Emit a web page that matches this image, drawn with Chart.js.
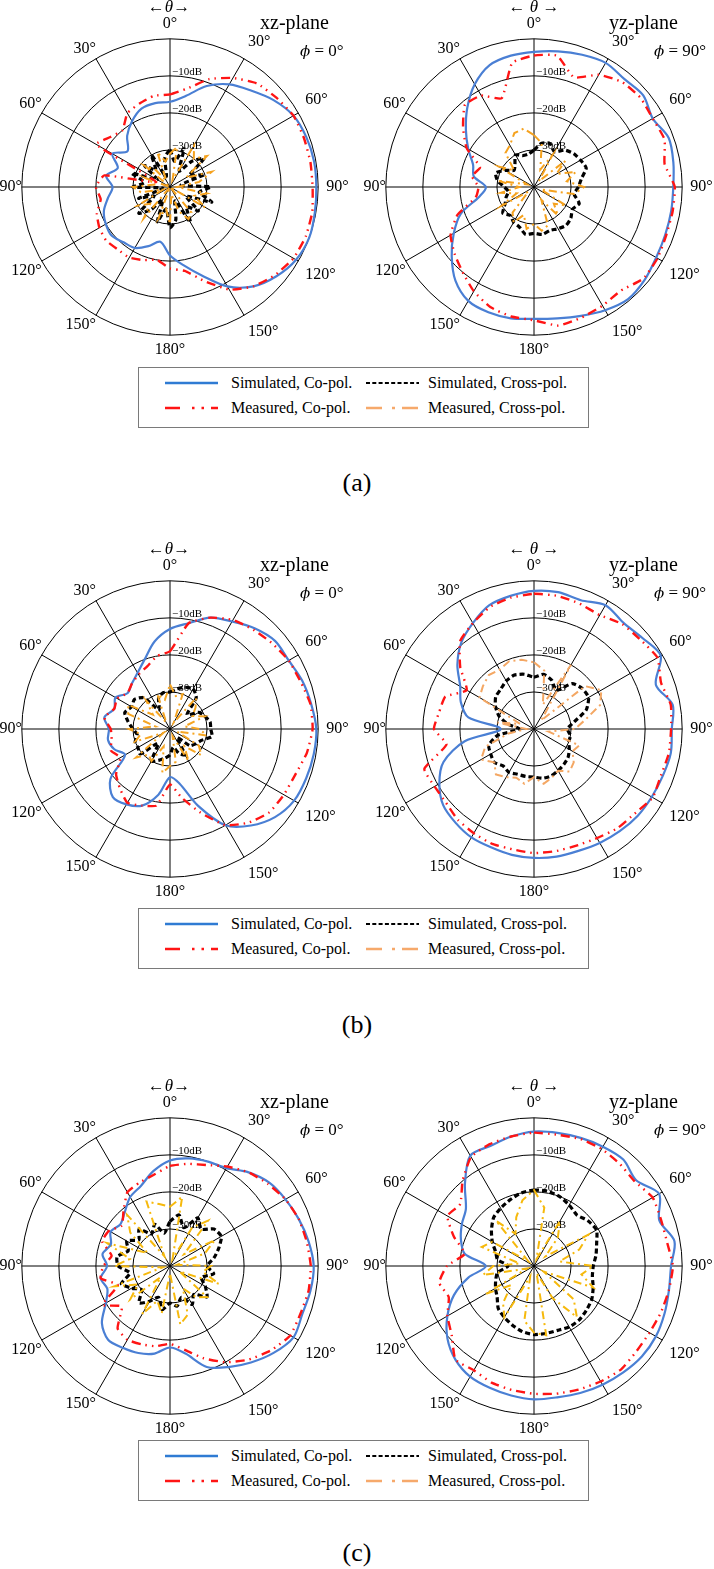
<!DOCTYPE html>
<html>
<head>
<meta charset="utf-8">
<title>Radiation patterns</title>
<script src="https://cdn.jsdelivr.net/npm/chart.js@4.4.1/dist/chart.umd.min.js"></script>
<style>
  body { margin: 0; background: #fff; }
  #page { position: relative; width: 714px; height: 1569px; overflow: hidden;
          font-family: "Liberation Serif", "Times New Roman", serif; color: #000; }
  .plot { position: absolute; width: 360px; height: 346px; }
  .txt { position: absolute; white-space: nowrap; line-height: 1; }
  .theta { font-size: 17px; transform: translate(-50%, -50%); }
  .plane { font-size: 20px; transform: translateY(-50%); }
  .phi { font-size: 17px; transform: translateY(-50%); }
  .phi i { font-family: "DejaVu Serif", serif; font-size: 15px; }
  .legend { position: absolute; left: 138px; width: 451px; height: 61px; box-sizing: border-box;
            border: 1px solid #7a7a7a; font-size: 16px; }
  .legend svg { position: absolute; }
  .legend span { position: absolute; white-space: nowrap; line-height: 1; transform: translateY(-50%); }
  .caption { position: absolute; font-size: 26px; line-height: 1; transform: translate(-50%, -50%); }
</style>
</head>
<body>
<div id="page"></div>
<script>
// theta positions, clockwise from the top (0..180 right side, 190..350 left side)
const angles = [0, 10, 20, 30, 40, 50, 60, 70, 80, 90, 100, 110, 120, 130, 140, 150, 160, 170,
                180, 190, 200, 210, 220, 230, 240, 250, 260, 270, 280, 290, 300, 310, 320, 330, 340, 350];
const dbTicks = [-40, -30, -20, -10, 0];

// (a) xz-plane
const aXzSimCo = [-17, -15, -11, -8, -6, -3.5, -1.5, -0.8, -0.5, -0.5, -0.3, 0, -0.7, -2.5, -5, -9, -14.5, -18.5,
                  -21.5, -25, -23, -21, -20.5, -19.5, -20, -21, -23, -24.5, -22.5, -25, -22, -25, -22, -19.5, -17.5, -17];
const aXzMeasCo = [-15, -13, -9, -6, -3.5, -2.5, -1.5, -1.5, -1.5, -1.5, -1, -1, -1.5, -3, -5, -8, -13, -17,
                   -18, -20, -19, -18, -18, -17.5, -18, -19, -21, -20, -22, -36, -17, -19, -20, -17, -16, -15];
const aXzSimX = [-30, -33, -29, -35, -31, -28, -34, -30, -37, -29, -32, -28, -35, -30, -33, -29, -36, -31,
                 -29, -34, -30, -36, -32, -29, -35, -31, -38, -30, -33, -29, -36, -31, -34, -30, -37, -32];
const aXzMeasX = [-31, -29, -38, -27, -30, -27, -35, -28, -32, -38, -30, -33, -29, -40, -31, -30, -33, -38,
                  -30, -34, -31, -40, -29, -33, -30, -38, -32, -30, -36, -33, -40, -31, -34, -38, -30, -33];
// (a) yz-plane
const aYzSimCo = [-3.5, -2.8, -2, -1.3, -2, -1.5, -3, -1.3, -1.8, -2.4, -2.4, -2.3, -1.9, -1, -0.5, -1.6, -3, -4,
                  -4.4, -4, -4, -4.5, -7, -11, -15, -19, -25, -27, -23.5, -22.5, -19.5, -16, -12, -8, -5, -4];
const aYzMeasCo = [-4.5, -4, -8.5, -5, -3, -2.5, -3, -2.5, -4.2, -2, -2, -2, -1.5, -1.5, -3.5, -3, -2.5, -2,
                   -4, -4.5, -5.5, -7.5, -10, -12, -14, -18, -24, -25, -23, -24.5, -19, -15, -11, -11.5, -14.5, -6];
const aYzSimX = [-30, -28, -27.5, -29, -27, -26, -25.5, -25, -27, -28, -29, -27, -28, -27, -26.5, -27, -27.5, -27,
                 -27.5, -27, -28.5, -29, -30, -29, -31, -32, -33, -32, -30, -29, -31, -33, -32, -30, -31, -31];
const aYzMeasX = [-26, -28, -35, -30, -38, -29, -33, -28, -31, -26.5, -29, -38, -30, -33, -30, -36, -29, -28,
                  -30, -28.5, -32, -29, -31, -38, -30, -35, -31, -36, -30, -38, -29, -33, -28, -27, -24.5, -24];

// (b) xz-plane
const bXzSimCo = [-13, -11, -8, -6.5, -4.5, -3, -3, -2, -1.3, -0.5, -0.6, -0.9, -1.3, -3, -6, -10, -18, -25,
                  -27, -22, -18, -16.5, -16, -19, -26, -24, -23, -23.5, -22, -24, -23, -25, -24, -22.5, -20, -16];
const bXzMeasCo = [-19, -11, -8, -6, -5, -4, -3, -2.5, -1.5, -1.5, -2.5, -4, -4.5, -5, -7, -10, -16, -21,
                   -25, -19, -18, -17, -19, -21, -24.5, -23, -24, -24, -22, -24, -23.5, -25, -24, -23, -22, -20];
const bXzSimX = [-30, -29, -28, -27.5, -29, -34, -31, -30, -29, -29, -28.5, -31, -32, -33, -37, -32, -33, -35,
                 -33, -32, -31, -30, -35, -29.5, -30, -30, -31, -30, -28.5, -27, -28, -27.5, -29, -34, -31, -30];
const bXzMeasX = [-28, -31, -30, -38, -29, -31, -33, -30, -36, -32, -30, -38, -31, -29, -34, -30, -38, -31,
                  -30, -28, -35, -30, -31, -28, -38, -30, -32, -29, -36, -28, -27, -34, -30, -38, -30, -32];
// (b) yz-plane
const bYzSimCo = [-2.7, -2.5, -3, -1.4, -2.5, -1.8, -0.5, -5, -2, -2.8, -2.5, -3, -3.3, -3.5, -4, -4.5, -5, -5,
                  -5.2, -5.5, -6, -6.2, -7, -8, -10.5, -14, -21, -31, -22, -19, -17, -13, -9.5, -7, -4.5, -3.5];
const bYzMeasCo = [-3.5, -3.5, -4, -4.5, -3, -2.5, -1.5, -3.5, -2.5, -3, -3, -3.5, -3, -4.5, -5, -6, -6.5, -6.5,
                   -6.5, -7, -7, -7.5, -8, -9, -9, -8.5, -16, -13, -14, -14.5, -19, -14, -9, -7, -5, -4];
const bYzSimX = [-26, -25, -26, -28, -24, -23, -23, -25, -29, -31, -30, -30, -29, -28, -27.5, -27, -26.5, -26.5,
                 -27, -27, -27, -26.5, -27, -26, -26.5, -27, -30, -36, -33, -30, -28, -26.5, -26, -25, -24.5, -25];
const bYzMeasX = [-22, -24, -33, -20, -37, -22, -19, -21, -26, -29, -36, -27, -28, -26, -25, -27, -26, -25,
                  -27, -25, -26, -25, -24, -26, -23.5, -26, -33, -38, -30, -36, -23, -22, -21, -21.5, -20.5, -21];

// (c) xz-plane
const cXzSimCo = [-11.5, -10.5, -10, -9.5, -7, -5, -4, -3, -2, -1.2, -1.5, -2, -1.5, -3.5, -6, -8.5, -11, -16,
                  -18, -16, -15, -14.5, -14, -16, -20, -22, -21, -23, -21.5, -23, -21.5, -22.5, -21, -18.5, -17, -14];
const cXzMeasCo = [-13, -12, -11, -9, -7, -5.5, -4, -3, -2.5, -2, -2, -2.5, -2.5, -4.5, -7, -10, -13.5, -17,
                   -19, -18, -17.5, -17, -18, -23, -19, -25, -21, -22, -24, -20.5, -21, -23, -20.5, -17, -16, -15];
const cXzSimX = [-28, -26, -29, -25, -27, -24.5, -24, -26, -28, -30, -28, -31, -29, -27, -30, -28, -31, -29,
                 -30, -28, -31, -29, -27, -30, -28, -26, -29, -26, -25.5, -28, -26.5, -29, -27, -30, -28, -31];
const cXzMeasX = [-24, -21, -38, -28, -24, -35, -26, -30, -38, -29, -31, -26, -37, -27, -29, -33, -26, -24,
                  -38, -27, -30, -25, -36, -26, -30, -24, -38, -25, -29, -22, -33, -26, -22, -37, -21.5, -23];
// (c) yz-plane
const cYzSimCo = [-3.7, -3.5, -3.2, -2.8, -2.5, -4, -1, -4, -1.5, -3, -3, -2.5, -2, -2, -2.5, -3, -3.5, -4,
                  -4, -4.5, -5, -5.5, -7, -9.5, -13, -17, -22, -27, -21, -19, -17.5, -16, -11, -5.6, -5.5, -4.5];
const cYzMeasCo = [-4, -4, -3.5, -3.5, -4, -4.5, -3, -3.5, -3.5, -2.5, -3, -3.5, -4, -4, -3.5, -4, -4.5, -5,
                   -5.5, -6, -6.5, -7.5, -7, -11, -13, -15.5, -14, -16.5, -21, -17, -13, -14, -10, -6, -5, -4.5];
const cYzSimX = [-19.5, -19.5, -20, -21, -22, -21, -20.5, -22, -23, -24, -24, -23, -22, -21.5, -21, -21, -21.5, -21.5,
                 -21.5, -22, -23, -24, -25, -27, -28, -29, -30, -33, -30, -29, -27, -25, -23, -22, -21, -20];
const cYzMeasX = [-19.5, -24, -38, -26, -30, -36, -23, -27, -33, -24, -27, -23, -37, -26, -22, -30, -38, -21,
                  -22, -25, -37, -24, -27, -32, -25, -38, -26, -29, -36, -25, -27, -38, -24, -30, -26, -22];

const legendLabels = ["Simulated, Co-pol.", "Simulated, Cross-pol.", "Measured, Co-pol.", "Measured, Cross-pol."];

const serif = '"Liberation Serif", "Times New Roman", serif';
const page = document.getElementById("page");

function addText(cls, html, left, top) {
  const el = document.createElement("div");
  el.className = "txt " + cls;
  el.innerHTML = html;
  el.style.left = left + "px";
  el.style.top = top + "px";
  page.appendChild(el);
}

// −10dB / −20dB / −30dB written just right of the 0° axis
const dbLabels = {
  id: "dbLabels",
  beforeDatasetsDraw(chart) {
    const r = chart.scales.r;
    const ctx = chart.ctx;
    ctx.save();
    ctx.font = "11px " + serif;
    ctx.fillStyle = "#000";
    ctx.textAlign = "left";
    ctx.textBaseline = "alphabetic";
    dbTicks.forEach((v) => {
      if (v <= -40 || v >= 0) return;
      const d = r.getDistanceFromCenterForValue(v);
      ctx.fillText("\u2212" + Math.abs(v) + "dB", r.xCenter + 2, r.yCenter - d - 1);
    });
    ctx.restore();
  },
};

function makePolar(cx, cy, simCo, measCo, simX, measX, crossColor) {
  const box = document.createElement("div");
  box.className = "plot";
  box.style.left = cx - 176 + "px";
  box.style.top = cy - 173 + "px";
  const canvas = document.createElement("canvas");
  box.appendChild(canvas);
  page.appendChild(box);

  new Chart(canvas, {
    type: "radar",
    data: {
      labels: angles,
      datasets: [
        { label: legendLabels[2], data: measCo, borderColor: "#ff1414", backgroundColor: "transparent",
          fill: false, borderWidth: 2.4, borderDash: [9, 5, 1.5, 5, 1.5, 5], tension: 0.15 },
        { label: legendLabels[0], data: simCo, borderColor: "#4a7fd4", backgroundColor: "transparent",
          fill: false, borderWidth: 2.2, tension: 0.3 },
        { label: legendLabels[3], data: measX, borderColor: crossColor, backgroundColor: "transparent",
          fill: false, borderWidth: 2, borderDash: [8, 4, 2, 4], tension: 0 },
        { label: legendLabels[1], data: simX, borderColor: "#000", backgroundColor: "transparent",
          fill: false, borderWidth: 3.2, borderDash: [5, 3], tension: 0.2 },
      ],
    },
    options: {
      responsive: true,
      maintainAspectRatio: false,
      animation: false,
      elements: { point: { radius: 0, hitRadius: 0 } },
      plugins: { legend: { display: false }, tooltip: { enabled: false } },
      scales: {
        r: {
          min: -40,
          max: 0,
          ticks: { display: false, stepSize: 10 },
          grid: { circular: true, color: "#000", lineWidth: 1 },
          angleLines: {
            color: "#000",
            lineWidth: (c) => (angles[c.index] % 30 === 0 ? 1 : 0),
          },
          pointLabels: {
            color: "#000",
            font: { family: serif, size: 16 },
            padding: (c) => (c.index > 18 ? 0 : c.index === 0 || c.index === 18 ? 5 : 8),
            callback: (v) => (v % 30 === 0 ? (v <= 180 ? v : 360 - v) + "\u00b0" : ""),
          },
        },
      },
    },
    plugins: [dbLabels],
  });
}

function makeLegend(top) {
  const lg = document.createElement("div");
  lg.className = "legend";
  lg.style.top = top + "px";
  const samples = [
    { x: 26, y: 15, stroke: "#2f7bd3", width: 2.6, dash: "" },
    { x: 227, y: 15, stroke: "#000", width: 2.2, dash: "4 2.3" },
    { x: 26, y: 40, stroke: "#ff1414", width: 2.6, dash: "15 12 2.5 7 2.5 7" },
    { x: 227, y: 40, stroke: "#f6a96b", width: 2.6, dash: "16 10 3 7" },
  ];
  const textX = [92, 289, 92, 289];
  samples.forEach((s, i) => {
    const svg = document.createElementNS("http://www.w3.org/2000/svg", "svg");
    svg.setAttribute("width", "53");
    svg.setAttribute("height", "8");
    svg.style.left = s.x + "px";
    svg.style.top = s.y - 4 + "px";
    const ln = document.createElementNS("http://www.w3.org/2000/svg", "line");
    ln.setAttribute("x1", "0"); ln.setAttribute("y1", "4");
    ln.setAttribute("x2", "53"); ln.setAttribute("y2", "4");
    ln.setAttribute("stroke", s.stroke);
    ln.setAttribute("stroke-width", s.width);
    if (s.dash) ln.setAttribute("stroke-dasharray", s.dash);
    svg.appendChild(ln);
    lg.appendChild(svg);
    const t = document.createElement("span");
    t.textContent = legendLabels[i];
    t.style.left = textX[i] + "px";
    t.style.top = s.y + "px";
    lg.appendChild(t);
  });
  page.appendChild(lg);
}

const panels = [
  { top: 0, legendTop: 367, capY: 483, cap: "(a)", cross: ["#f5a21e", "#f5a21e"],
    xz: [aXzSimCo, aXzMeasCo, aXzSimX, aXzMeasX], yz: [aYzSimCo, aYzMeasCo, aYzSimX, aYzMeasX] },
  { top: 542, legendTop: 908, capY: 1025, cap: "(b)", cross: ["#f6a623", "#f4a763"],
    xz: [bXzSimCo, bXzMeasCo, bXzSimX, bXzMeasX], yz: [bYzSimCo, bYzMeasCo, bYzSimX, bYzMeasX] },
  { top: 1079, legendTop: 1440, capY: 1553, cap: "(c)", cross: ["#f6b90c", "#f6b90c"],
    xz: [cXzSimCo, cXzMeasCo, cXzSimX, cXzMeasX], yz: [cYzSimCo, cYzMeasCo, cYzSimX, cYzMeasX] },
];

const leftX = 170;
const rightX = 534;

function build() {
  panels.forEach((p) => {
    const cy = p.top + 187;
    makePolar(leftX, cy, ...p.xz, p.cross[0]);
    makePolar(rightX, cy, ...p.yz, p.cross[1]);

    addText("theta", "\u2190<i>\u03b8</i>\u2192", leftX - 1, p.top + 6);
    addText("theta", "\u2190 <i>\u03b8</i> \u2192", rightX, p.top + 6);
    addText("plane", "xz-plane", leftX + 90, p.top + 22);
    addText("plane", "yz-plane", rightX + 75, p.top + 22);
    addText("phi", "<i>\u03d5</i> = 0\u00b0", leftX + 130, p.top + 50);
    addText("phi", "<i>\u03d5</i> = 90\u00b0", rightX + 120, p.top + 50);

    makeLegend(p.legendTop);
    addText("caption", p.cap, 357, p.capY);
  });
}

Promise.all([
  document.fonts.load('16px "Liberation Serif"'),
  document.fonts.load('italic 16px "Liberation Serif"'),
]).then(build, build);
</script>
</body>
</html>
